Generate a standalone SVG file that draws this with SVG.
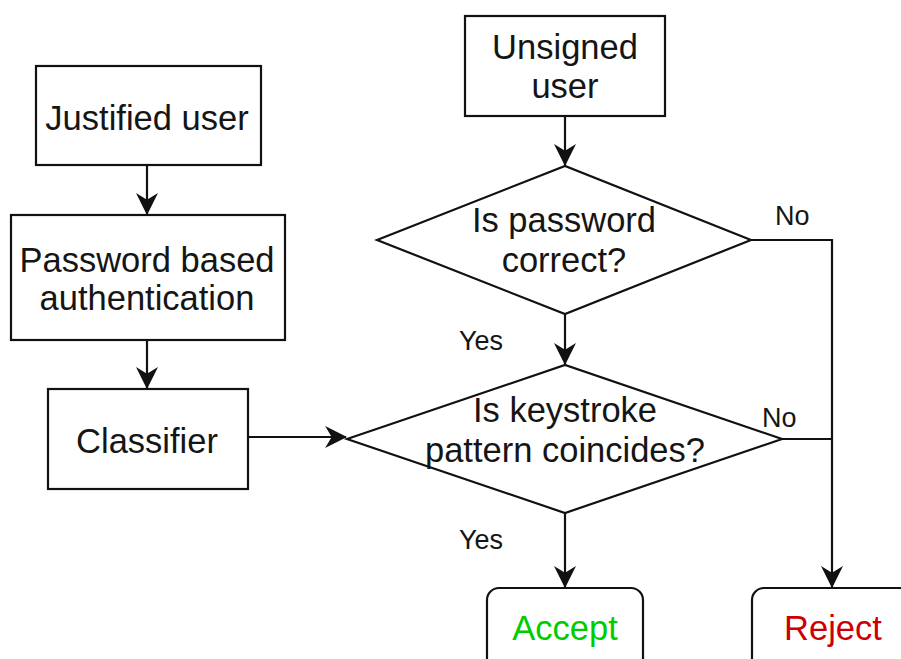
<svg xmlns="http://www.w3.org/2000/svg" width="901" height="659" viewBox="0 0 901 659">
  <style>
    .box { fill: #ffffff; stroke: #111111; stroke-width: 2.2; }
    .edge { fill: none; stroke: #111111; stroke-width: 2.2; }
    .t { font-family: "Liberation Sans", Arial, Helvetica, sans-serif; font-size: 34.5px; fill: #151515; text-anchor: middle; }
    .lbl { font-family: "Liberation Sans", Arial, Helvetica, sans-serif; font-size: 27px; fill: #151515; }
    .ok { fill: #00cc00; }
    .bad { fill: #cc0000; }
  </style>
  <defs>
    <marker id="arrow" markerUnits="userSpaceOnUse" markerWidth="22" markerHeight="22" viewBox="0 0 20 20" refX="19" refY="10" orient="auto">
      <path d="M0,0 L20,10 L0,20 L6,10 Z" fill="#111111"/>
    </marker>
  </defs>

  <!-- connectors -->
  <g id="connectors">
    <path class="edge" d="M147,165 L147,214" marker-end="url(#arrow)"/>
    <path class="edge" d="M147,340 L147,388" marker-end="url(#arrow)"/>
    <path class="edge" d="M248,437 L346,437" marker-end="url(#arrow)"/>
    <path class="edge" d="M565,116 L565,165" marker-end="url(#arrow)"/>
    <path class="edge" d="M565,314 L565,364" marker-end="url(#arrow)"/>
    <path class="edge" d="M565,513 L565,587" marker-end="url(#arrow)"/>
    <path class="edge" d="M751,240 L832,240 L832,587" marker-end="url(#arrow)"/>
    <path class="edge" d="M782,439 L832,439"/>
    <text class="lbl" x="459" y="350">Yes</text>
    <text class="lbl" x="459" y="549">Yes</text>
    <text class="lbl" x="775" y="225">No</text>
    <text class="lbl" x="762" y="427">No</text>
  </g>

  <g id="justified-user">
    <rect class="box" x="36" y="66" width="225" height="99"/>
    <text class="t" x="147" y="130">Justified user</text>
  </g>

  <g id="password-auth">
    <rect class="box" x="11" y="215" width="274" height="125"/>
    <text class="t" x="147" y="272">Password based</text>
    <text class="t" x="147" y="310">authentication</text>
  </g>

  <g id="classifier">
    <rect class="box" x="48" y="389" width="200" height="100"/>
    <text class="t" x="147" y="453">Classifier</text>
  </g>

  <g id="unsigned-user">
    <rect class="box" x="465" y="16" width="200" height="100"/>
    <text class="t" x="565" y="59">Unsigned</text>
    <text class="t" x="565" y="98">user</text>
  </g>

  <g id="password-check">
    <polygon class="box" points="377,240 565,166 751,240 565,314"/>
    <text class="t" x="564" y="232">Is password</text>
    <text class="t" x="564" y="272">correct?</text>
  </g>

  <g id="keystroke-check">
    <polygon class="box" points="347,439 565,365 782,439 565,513"/>
    <text class="t" x="565" y="422">Is keystroke</text>
    <text class="t" x="565" y="462">pattern coincides?</text>
  </g>

  <g id="accept">
    <rect class="box" x="487" y="588" width="156" height="90" rx="12" ry="12"/>
    <text class="t ok" x="565" y="640">Accept</text>
  </g>

  <g id="reject">
    <rect class="box" x="752" y="588" width="160" height="90" rx="12" ry="12"/>
    <text class="t bad" x="833" y="640">Reject</text>
  </g>
</svg>
